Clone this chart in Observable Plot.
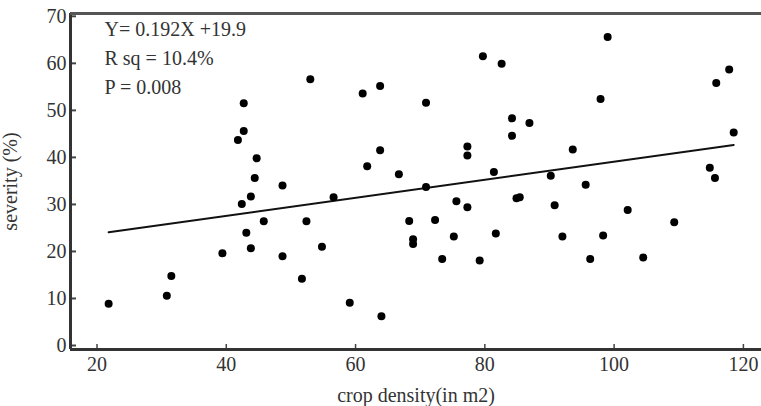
<!DOCTYPE html>
<html>
<head>
<meta charset="utf-8">
<script src="https://cdn.jsdelivr.net/npm/d3@7"></script>
<script src="https://cdn.jsdelivr.net/npm/@observablehq/plot@0.6"></script>
<style>
  html, body { margin: 0; padding: 0; background: #fff; }
  #chart svg { display: block; }
</style>
</head>
<body>
<div id="chart"></div>
<script>
const density = [21.8, 30.8, 31.5, 39.4, 41.8, 42.7, 42.7, 44.7, 44.4, 43.8, 42.4, 43.1, 43.8, 45.8, 48.7, 48.7, 51.7, 52.4, 53.0, 54.8, 56.6, 59.1, 61.1, 61.8, 63.8, 63.8, 64.0, 66.7, 68.3, 68.9, 68.9, 70.9, 70.9, 72.3, 73.4, 75.2, 75.6, 77.3, 77.3, 77.3, 79.2, 79.7, 81.4, 81.7, 82.6, 84.2, 84.2, 84.9, 85.4, 86.9, 90.2, 90.8, 92.0, 93.6, 95.6, 96.3, 97.9, 98.3, 99.0, 102.1, 104.5, 109.3, 114.8, 115.6, 115.8, 117.8, 118.5];
const severity = [8.9, 10.6, 14.8, 19.6, 43.7, 51.5, 45.6, 39.8, 35.6, 31.7, 30.1, 24.0, 20.7, 26.4, 34.0, 19.0, 14.2, 26.4, 56.6, 21.0, 31.5, 9.1, 53.6, 38.1, 55.2, 41.5, 6.2, 36.4, 26.5, 22.6, 21.6, 51.6, 33.7, 26.7, 18.4, 23.2, 30.7, 42.3, 40.4, 29.4, 18.1, 61.5, 36.9, 23.8, 59.9, 48.3, 44.6, 31.3, 31.5, 47.3, 36.1, 29.8, 23.2, 41.7, 34.2, 18.4, 52.4, 23.4, 65.6, 28.8, 18.7, 26.2, 37.8, 35.6, 55.8, 58.7, 45.3];
const xTicks = [20, 40, 60, 80, 100, 120];
const yTicks = [0, 10, 20, 30, 40, 50, 60, 70];
const slope = 0.192;
const intercept = 19.9;
const statLines = ["Y= 0.192X +19.9", "R sq = 10.4%", "P = 0.008"];
const xLabel = "crop density(in m2)";
const yLabel = "severity (%)";
const xDomain = [15.9, 122.8];
const yDomain = [-0.85, 70.6];

const points = density.map((x, i) => ({x, y: severity[i]}));
const fit = d3.extent(density).map(x => ({x, y: slope * x + intercept}));

const chart = Plot.plot({
  width: 761,
  height: 406,
  marginLeft: 70,
  marginRight: 0,
  marginTop: 13,
  marginBottom: 57,
  style: {fontFamily: "'Liberation Serif', 'Times New Roman', serif", fontSize: "20px", color: "#333", background: "#fff"},
  x: {domain: xDomain},
  y: {domain: yDomain},
  marks: [
    Plot.axisX({ticks: xTicks, tickSize: -5, tickPadding: 12, tickFormat: d => d, label: xLabel, labelAnchor: "center", labelArrow: false, labelOffset: 52, stroke: "#444", strokeWidth: 1.5, fontSize: 20}),
    Plot.axisY({ticks: yTicks, tickSize: -6, tickPadding: 10, tickFormat: d => d, label: yLabel, labelAnchor: "center", labelArrow: false, labelOffset: 68, stroke: "#444", strokeWidth: 2, fontSize: 20}),
    Plot.ruleX([xDomain[0]], {stroke: "#333", strokeWidth: 3}),
    Plot.ruleY([yDomain[0]], {stroke: "#333", strokeWidth: 3}),
    Plot.ruleY([yDomain[1]], {stroke: "#555", strokeWidth: 3}),
    Plot.line(fit, {x: "x", y: "y", stroke: "#111", strokeWidth: 2}),
    Plot.dot(points, {x: "x", y: "y", r: 4, fill: "#000", stroke: "none"}),
    Plot.text([statLines.join("\n")], {frameAnchor: "top-left", dx: 34, dy: 2, lineHeight: 1.45, fontSize: 20, fill: "#333", textAnchor: "start"})
  ]
});
document.getElementById("chart").appendChild(chart);
</script>
</body>
</html>
